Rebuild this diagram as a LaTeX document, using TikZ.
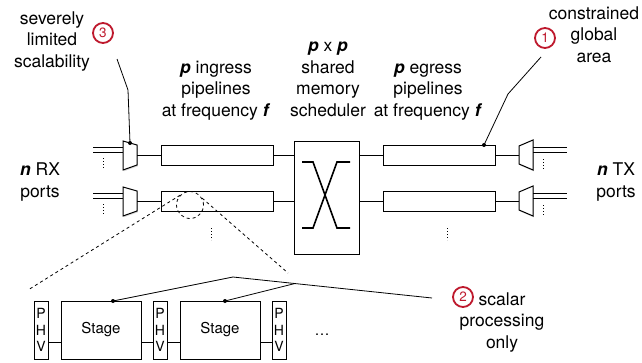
\documentclass[tikz,border=0pt]{standalone}
\usepackage{fontspec}
\setmainfont{TeX Gyre Heros}
\usetikzlibrary{shadows}
\definecolor{ccnum}{RGB}{190,25,45}
\newcommand{\bvar}[1]{\textbf{\textit{#1}}}

\begin{document}
\begin{tikzpicture}[x=1pt,y=-1pt]

  % Styles
  \tikzstyle{boite} = [draw, line width=1pt, fill=white, drop shadow={shadow xshift=0.8pt, shadow yshift=-1.3pt, opacity=0.3}]
  \tikzstyle{pipeline} = [boite, minimum width=112pt, minimum height=20pt, inner sep=0pt]
  \tikzstyle{numero} = [circle, draw=ccnum, line width=1.8pt, text=ccnum, fill=white, minimum size=20pt, inner sep=0pt, font=\fontsize{13.5}{13.5}\selectfont]
  \tikzstyle{texte} = [align=center, font=\fontsize{17.5}{21.5}\selectfont, anchor=base, inner sep=0pt]
  \tikzstyle{fil} = [line width=0.8pt]
  \tikzstyle{point} = [circle, fill, inner sep=0pt, minimum size=4pt]
  \tikzstyle{suite} = [line width=1pt, dash pattern=on 1pt off 2pt]

  % Cadre
  \useasboundingbox (0,0) rectangle (642,362);

  % Ports RX
  \draw[fil] (93,147) -- (123,147) (93,152) -- (123,152);
  \draw[fil] (93,193) -- (123,193) (93,198) -- (123,198);
  \draw[suite] (103,158) -- (103,169);
  \draw[suite] (103,204) -- (103,215);
  \draw[boite] (123,141) -- (137,145) -- coordinate (rx1) (137,165) -- (123,170) -- cycle;
  \draw[boite] (123,187) -- (137,191) -- coordinate (rx2) (137,211) -- (123,216) -- cycle;

  % Pipelines
  \node[pipeline] (in1) at (217,155) {};
  \node[pipeline] (in2) at (217,201) {};
  \node[pipeline] (out1) at (439,155) {};
  \node[pipeline] (out2) at (439,201) {};
  \draw[suite] (211,228) -- (211,240);
  \draw[suite] (447,228) -- (447,240);

  % Ordonnanceur
  \node[boite, minimum width=65pt, minimum height=113pt] (sched) at (326.5,197.5) {};
  \draw[line width=1.6pt] (302,162) -- (313,162) -- (337,228) -- (350,228);
  \draw[line width=1.6pt] (302,228) -- (313,228) -- (337,162) -- (350,162);

  % Ports TX
  \draw[boite] (519,146) -- (533,140) -- (533,170) -- (519,164) -- coordinate (tx1) cycle;
  \draw[boite] (519,192) -- (533,186) -- (533,216) -- (519,210) -- coordinate (tx2) cycle;
  \draw[fil] (533,147) -- (567,147) (533,152) -- (567,152);
  \draw[fil] (533,193) -- (567,193) (533,198) -- (567,198);
  \draw[suite] (543,159) -- (543,170);
  \draw[suite] (543,205) -- (543,216);

  % Liaisons
  \draw[fil] (rx1) -- (in1.west);
  \draw[fil] (rx2) -- (in2.west);
  \draw[fil] (in1.east) -- (in1.east -| sched.west);
  \draw[fil] (in2.east) -- (in2.east -| sched.west);
  \draw[fil] (out1.west -| sched.east) -- (out1.west);
  \draw[fil] (out2.west -| sched.east) -- (out2.west);
  \draw[fil] (out1.east) -- (tx1);
  \draw[fil] (out2.east) -- (tx2);

  % Loupe
  \node[circle, draw, dashed, fil, minimum size=27pt, inner sep=0pt] (loupe) at (190,205) {};
  \coordinate (zg) at (28,290);
  \coordinate (zd) at (288,273);
  \draw[dashed, fil] (loupe.135) -- (zg);
  \draw[dashed, fil] (loupe.30) -- (zd);

  % Etages
  \tikzstyle{phv} = [boite, minimum width=14pt, minimum height=58pt, inner sep=1pt, align=center, font=\fontsize{14}{16.5}\selectfont]
  \tikzstyle{etage} = [boite, minimum width=80pt, minimum height=58pt, font=\fontsize{15}{15}\selectfont]
  \node[phv] (phv1) at (41,330) {P\\H\\V};
  \node[etage] (st1) at (101,330) {Stage};
  \node[phv] (phv2) at (160,330) {P\\H\\V};
  \node[etage] (st2) at (220,330) {Stage};
  \node[phv] (phv3) at (279,330) {P\\H\\V};
  \node[font=\fontsize{15}{15}\selectfont, anchor=base] (etc) at (322,335) {\ldots};
  \draw[fil] ([yshift=-12pt]phv1.east) -- ([yshift=-12pt]st1.west);
  \draw[fil] ([yshift=-12pt]st1.east) -- ([yshift=-12pt]phv2.west);
  \draw[fil] ([yshift=-12pt]phv2.east) -- ([yshift=-12pt]st2.west);
  \draw[fil] ([yshift=-12pt]st2.east) -- ([yshift=-12pt]phv3.west);

  % Annotations
  \node[point] (d1) at (484,145) {};
  \coordinate (k1) at (508,94);
  \coordinate (e1) at (541,57);
  \draw[fil] (d1.center) -- (k1) -- (e1);
  \node[numero] (c1) at (545,38) {1};

  \node[point] (d3) at (130,143) {};
  \coordinate (k3) at (128,90);
  \coordinate (e3) at (117,59);
  \draw[fil] (d3.center) -- (k3) -- (e3);
  \node[numero] (c3) at (103,33) {3};

  \node[point] (ds1) at (113,301) {};
  \node[point] (ds2) at (225,301) {};
  \coordinate (sommet) at (233,277);
  \coordinate (jonction) at (295,283.5);
  \coordinate (e2) at (432,298);
  \draw[fil] (ds1.center) -- (sommet) -- (e2);
  \draw[fil] (ds2.center) -- (jonction);
  \node[numero] (c2) at (463,297) {2};

  % Textes (ancre sur la derniere ligne)
  \node[texte] (lscal) at (52,67) {severely\\limited\\scalability};
  \node[texte] (lglob) at (594,62) {constrained\\global\\area};
  \node[texte] (ling) at (216,116) {\bvar{p} ingress\\pipelines\\at frequency \bvar{f}};
  \node[texte] (lsched) at (328,116) {\bvar{p} x \bvar{p}\\shared\\memory\\scheduler};
  \node[texte] (leg) at (428,116) {\bvar{p} egress\\pipelines\\at frequency \bvar{f}};
  \node[texte] (lrx) at (40,197) {\bvar{n} RX\\ports};
  \node[texte] (ltx) at (616,197) {\bvar{n} TX\\ports};
  \node[texte] (lscalar) at (502,348) {scalar\\processing\\only};

\end{tikzpicture}
\end{document}
